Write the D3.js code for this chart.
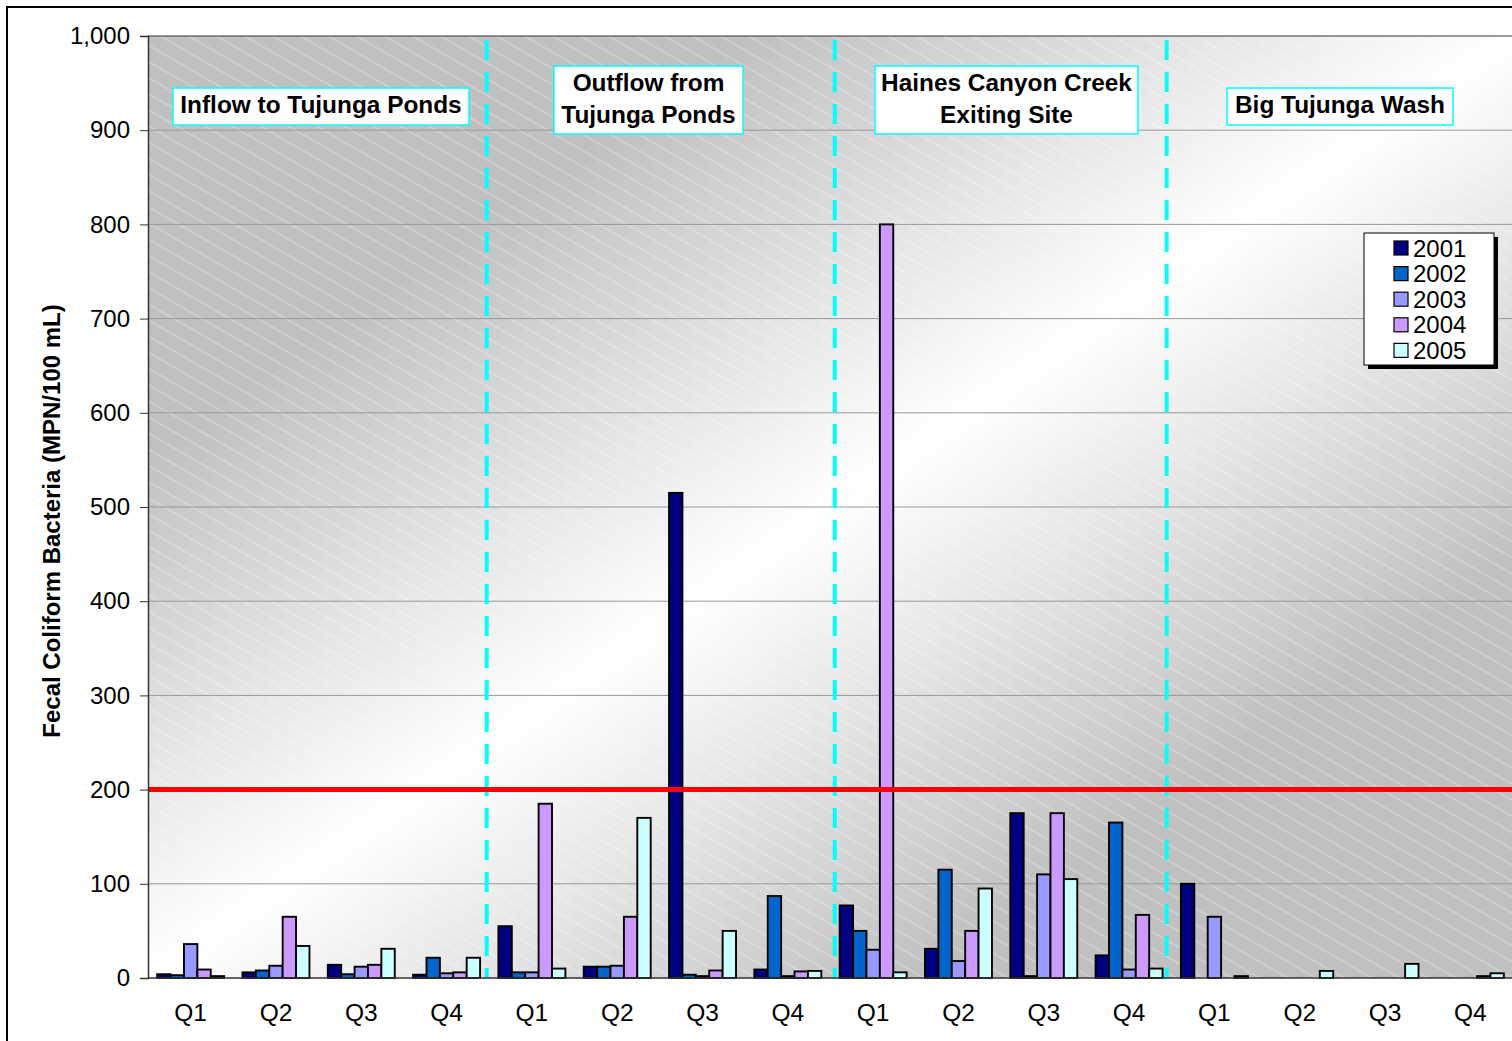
<!DOCTYPE html>
<html><head><meta charset="utf-8">
<script src="https://cdn.jsdelivr.net/npm/d3@7"></script>
<style>
html,body{margin:0;padding:0;background:#fff;overflow:hidden}
svg{display:block;font-family:"Liberation Sans",Arial,sans-serif}
</style></head>
<body>
<svg id="chart" width="1512" height="1041"></svg>
<script>
// ---------- DATA ----------
const quarters = ["Q1","Q2","Q3","Q4"];
const sites = ["Inflow to Tujunga Ponds","Outflow from Tujunga Ponds","Haines Canyon Creek Exiting Site","Big Tujunga Wash"];
const years = ["2001","2002","2003","2004","2005"];
// 16 categories: 4 sites x 4 quarters
const v2001 = [4,6,14,3.5, 55,12,515,9, 77,31,175,24, 100,null,null,null];
const v2002 = [3,8,4,21.5, 6,12,3.5,87, 50,115,2,165, null,null,null,null];
const v2003 = [36,13,12,5, 6,13,2,2, 30,18,110,9, 65,null,null,null];
const v2004 = [9,65,14,6, 185,65,8,7, 800,50,175,67, null,null,null,2];
const v2005 = [2,34,31,21.5, 10,170,50,7.5, 6,95,105,10, 2,7.5,15,5];
const seriesValues = [v2001,v2002,v2003,v2004,v2005];
const seriesColors = ["#000080","#0066CC","#9999FF","#CC99FF","#CCFFFF"];
const yTicks = [0,100,200,300,400,500,600,700,800,900,1000];
const standardLimit = 200;
const yTitle = "Fecal Coliform Bacteria (MPN/100 mL)";
const siteLabelLines = [["Inflow to Tujunga Ponds"],["Outflow from","Tujunga Ponds"],["Haines Canyon Creek","Exiting Site"],["Big Tujunga Wash"]];
const dividerAt = [3.97, 8.05, 11.94]; // in category units

// ---------- LAYOUT ----------
const L = 148, R = 1513, T = 36, B = 978;
const svg = d3.select("#chart");
const defs = svg.append("defs");

const bg = defs.append("linearGradient").attr("id","bgGrad")
  .attr("x1",0).attr("y1",0).attr("x2",1).attr("y2",1);
[[0,"#c0c0c0"],[0.22,"#c0c0c0"],[0.5,"#ffffff"],[0.78,"#c0c0c0"],[1,"#c0c0c0"]]
  .forEach(([o,c])=>bg.append("stop").attr("offset",o).attr("stop-color",c));

const pat = defs.append("pattern").attr("id","hatch").attr("patternUnits","userSpaceOnUse")
  .attr("width",40).attr("height",14).attr("patternTransform","rotate(30)");
pat.append("line").attr("x1",0).attr("y1",7).attr("x2",40).attr("y2",7)
  .attr("stroke","#ffffff").attr("stroke-opacity",0.4).attr("stroke-width",1);

const cats = d3.range(16);
const x = d3.scaleBand().domain(cats).range([L,R]).paddingInner(0.215).paddingOuter(0.1075);
const xs = d3.scaleBand().domain(years).range([0,x.bandwidth()]);
const xLin = d3.scaleLinear().domain([0,16]).range([L,R]);
const y = d3.scaleLinear().domain([0,1000]).range([B,T]);

// outer border
svg.append("rect").attr("x",7).attr("y",7).attr("width",1530).attr("height",1060)
  .attr("fill","#fff").attr("stroke","#000").attr("stroke-width",2);

// plot background
svg.append("rect").attr("x",L).attr("y",T).attr("width",R-L).attr("height",B-T).attr("fill","url(#bgGrad)");
svg.append("rect").attr("x",L).attr("y",T).attr("width",R-L).attr("height",B-T).attr("fill","url(#hatch)");

// gridlines
svg.append("g").selectAll("line").data(yTicks.filter(d=>d>0)).join("line")
  .attr("x1",L).attr("x2",R).attr("y1",d=>y(d)).attr("y2",d=>y(d))
  .attr("stroke",d=>d===1000?"#333":"#999").attr("stroke-width",1);

// dividers
svg.append("g").selectAll("line").data(dividerAt).join("line")
  .attr("x1",d=>xLin(d)).attr("x2",d=>xLin(d)).attr("y1",T+4).attr("y2",B)
  .attr("stroke","#00FFFF").attr("stroke-width",4).attr("stroke-dasharray","20,12");

// bars
const barData = [];
seriesValues.forEach((arr,si)=>arr.forEach((v,ci)=>{ if(v!==null) barData.push({ci,si,v}); }));
svg.append("g").selectAll("rect").data(barData).join("rect")
  .attr("x",d=>x(d.ci)+xs(years[d.si]))
  .attr("width",xs.bandwidth())
  .attr("y",d=>y(d.v))
  .attr("height",d=>y(0)-y(d.v))
  .attr("fill",d=>seriesColors[d.si])
  .attr("stroke","#000").attr("stroke-width",1.9);

// red standard line
svg.append("line").attr("x1",L).attr("x2",R).attr("y1",y(standardLimit)).attr("y2",y(standardLimit))
  .attr("stroke","#FF0000").attr("stroke-width",5);

// axes
const yAxis = d3.axisLeft(y).tickValues(yTicks).tickFormat(d3.format(",")).tickSize(8).tickPadding(10);
const gy = svg.append("g").attr("transform",`translate(${L},0)`).call(yAxis);
gy.select(".domain").attr("stroke","#333").attr("stroke-width",1.5);
gy.selectAll(".tick line").attr("stroke","#333");
gy.selectAll(".tick text").attr("font-size",24).attr("fill","#000").attr("font-family","Liberation Sans, Arial");

svg.append("line").attr("x1",L).attr("x2",R).attr("y1",B).attr("y2",B).attr("stroke","#333").attr("stroke-width",1.5);

const xAxis = d3.axisBottom(x).tickFormat(i=>quarters[i%4]).tickSize(0).tickPadding(26);
const gx = svg.append("g").attr("transform",`translate(0,${B})`).call(xAxis);
gx.select(".domain").remove();
gx.selectAll(".tick text").attr("font-size",24.5).attr("fill","#000").attr("font-family","Liberation Sans, Arial");

// y title
svg.append("text").attr("transform","translate(60,521) rotate(-90)")
  .attr("text-anchor","middle").attr("font-size",24).attr("font-weight","bold").text(yTitle);

// site label boxes (layout)
const boxLayout = [
  {x:173,y:88,w:296,h:37},
  {x:554,y:66,w:189,h:68},
  {x:875,y:66,w:263,h:68},
  {x:1227,y:88,w:226,h:37}
];
siteLabelLines.forEach((lines,i)=>{
  const b = boxLayout[i];
  svg.append("rect").attr("x",b.x).attr("y",b.y).attr("width",b.w).attr("height",b.h)
    .attr("fill","#fff").attr("stroke","#00FFFF").attr("stroke-width",1.5);
  const cx = b.x+b.w/2;
  const lh = 32;
  const startY = b.y + b.h/2 - (lines.length-1)*lh/2;
  lines.forEach((t,j)=>{
    svg.append("text").attr("x",cx).attr("y",startY+j*lh - 2).attr("dy","0.36em")
      .attr("text-anchor","middle").attr("font-size",24.4).attr("font-weight","bold").text(t);
  });
});

// legend
const lg = svg.append("g").attr("transform","translate(1364,233)");
lg.append("rect").attr("x",4).attr("y",4).attr("width",130).attr("height",132).attr("fill","#000");
lg.append("rect").attr("x",0).attr("y",0).attr("width",130).attr("height",132).attr("fill","#fff").attr("stroke","#000").attr("stroke-width",1);
years.forEach((yr,i)=>{
  const cy = 15 + i*25.6;
  lg.append("rect").attr("x",30).attr("y",cy-7).attr("width",14).attr("height",14)
    .attr("fill",seriesColors[i]).attr("stroke","#000").attr("stroke-width",1.2);
  lg.append("text").attr("x",49).attr("y",cy).attr("dy","0.36em").attr("font-size",24).text(yr);
});
</script>
</body></html>
